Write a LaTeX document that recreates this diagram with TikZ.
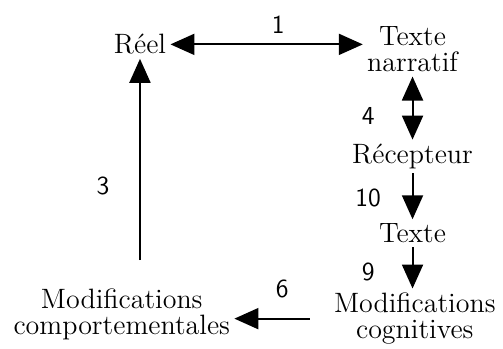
\documentclass[tikz,border=0pt]{standalone}
\usepackage{tikz}
\usetikzlibrary{arrows.meta,positioning,calc}

\begin{document}
\begin{tikzpicture}[box/.style={font=\fontsize{14}{13}\selectfont,align=center,inner sep=2pt},
  lbl/.style={font=\sffamily\fontsize{13}{14}\selectfont,inner sep=0pt},
  fl/.style={line width=1pt,-{Triangle[length=12pt,width=10.5pt]}},
  fll/.style={line width=1pt,{Triangle[length=12pt,width=10.5pt]}-{Triangle[length=12pt,width=10.5pt]}}]
\useasboundingbox (0,0) rectangle (8.84,6.12);
\node[box] (reel) at (2.46,5.34) {R\'eel};
\node[box] (narratif) at (7.25,5.25) {Texte\\narratif};
\node[box] (recepteur) at (7.25,3.37) {R\'ecepteur};
\node[box] (texte) at (7.25,2.02) {Texte};
\node[box] (cognitives) at (7.29,0.52) {Modifications\\cognitives};
\node[box] (comport) at (2.14,0.60) {Modifications\\comportementales};

\draw[fll] (reel.east) -- (narratif.west |- reel.east);
\draw[fll] (narratif.south) -- (recepteur.north);
\draw[fl] (recepteur.south) -- (texte.north);
\draw[fl] (texte.south) -- (cognitives.north -| texte.south);
\draw[fl,shorten <=10pt] (cognitives.west) -- (cognitives.west -| comport.east);
\draw[fl,shorten <=12pt] (reel.south |- comport.north) -- (reel.south);

\node[lbl] (l1) at (4.89,5.68) {1};
\node[lbl] (l4) at (6.47,4.09) {4};
\node[lbl] (l10) at (6.47,2.64) {10};
\node[lbl] (l9) at (6.47,1.34) {9};
\node[lbl] (l6) at (4.96,1.05) {6};
\node[lbl] (l3) at (1.81,2.86) {3};
\end{tikzpicture}
\end{document}
